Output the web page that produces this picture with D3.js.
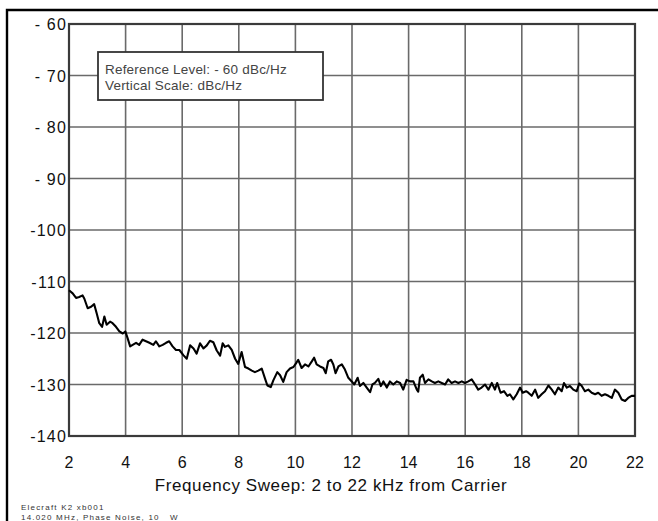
<!DOCTYPE html>
<html><head><meta charset="utf-8">
<script src="https://cdn.jsdelivr.net/npm/d3@7"></script>
<style>body{margin:0;background:#fff}svg{display:block}</style>
</head><body>
<svg id="c" width="658" height="521"></svg>
<script>
const freqs = [2.00,2.13,2.25,2.36,2.48,2.54,2.66,2.78,2.89,2.98,3.07,3.17,3.25,3.33,3.45,3.54,3.66,3.78,3.90,3.99,4.07,4.16,4.25,4.37,4.48,4.60,4.72,4.84,4.98,5.07,5.19,5.31,5.43,5.54,5.66,5.78,5.90,6.04,6.16,6.28,6.40,6.51,6.63,6.75,6.87,6.98,7.10,7.22,7.34,7.43,7.51,7.63,7.75,7.87,7.98,8.10,8.22,8.34,8.46,8.57,8.69,8.81,8.93,9.01,9.13,9.22,9.36,9.46,9.57,9.69,9.81,9.93,10.02,10.10,10.22,10.34,10.46,10.58,10.66,10.75,10.87,10.99,11.07,11.16,11.26,11.34,11.42,11.52,11.64,11.75,11.87,11.99,12.08,12.20,12.28,12.40,12.52,12.64,12.72,12.81,12.93,13.02,13.11,13.23,13.34,13.46,13.58,13.70,13.81,13.93,14.05,14.17,14.29,14.34,14.40,14.50,14.58,14.70,14.82,14.93,15.05,15.17,15.29,15.40,15.52,15.64,15.76,15.88,15.99,16.11,16.23,16.35,16.46,16.58,16.70,16.82,16.94,17.05,17.13,17.25,17.37,17.49,17.58,17.70,17.82,17.94,18.03,18.15,18.23,18.35,18.47,18.58,18.70,18.82,18.94,19.06,19.17,19.29,19.41,19.49,19.59,19.70,19.82,19.94,20.03,20.12,20.23,20.35,20.47,20.59,20.70,20.82,20.94,21.06,21.18,21.29,21.41,21.53,21.65,21.76,21.88,22.00];
const levels = [-111.7,-112.3,-113.2,-113.0,-112.7,-113.3,-115.2,-114.9,-114.4,-116.2,-118.1,-118.8,-116.8,-118.4,-117.8,-118.1,-118.8,-119.7,-120.1,-119.7,-121.0,-122.6,-122.3,-121.9,-122.3,-121.3,-121.6,-121.9,-122.3,-121.6,-122.6,-122.3,-121.9,-121.6,-122.6,-123.3,-123.3,-124.3,-125.0,-122.4,-123.0,-124.0,-122.0,-123.0,-122.4,-121.5,-121.8,-123.4,-124.4,-122.0,-122.7,-122.4,-123.3,-125.0,-126.0,-123.7,-126.6,-126.9,-127.3,-127.6,-127.3,-126.9,-128.9,-130.2,-130.5,-129.2,-127.6,-128.2,-129.5,-127.6,-126.9,-126.6,-125.9,-125.2,-126.8,-126.1,-126.5,-125.5,-124.8,-126.1,-126.5,-126.8,-127.8,-125.5,-125.2,-126.1,-127.8,-126.5,-126.1,-127.1,-128.7,-129.4,-130.0,-128.7,-130.3,-129.7,-130.6,-131.5,-130.0,-129.7,-128.9,-130.3,-129.4,-130.6,-129.4,-130.0,-129.4,-129.7,-131.0,-129.1,-129.4,-129.4,-131.0,-131.4,-128.7,-128.1,-129.7,-129.0,-129.4,-129.7,-129.4,-129.7,-130.0,-129.0,-129.7,-129.4,-129.7,-129.4,-129.7,-129.4,-129.0,-130.0,-131.0,-130.6,-130.0,-131.0,-129.7,-131.0,-129.7,-131.6,-131.3,-132.2,-131.9,-132.9,-131.9,-130.6,-131.6,-131.3,-131.6,-132.2,-131.0,-132.6,-131.9,-131.3,-130.2,-131.0,-131.9,-130.6,-131.3,-129.7,-130.6,-130.3,-131.0,-131.3,-129.8,-130.3,-131.3,-131.0,-131.6,-131.9,-131.6,-132.2,-131.9,-132.2,-132.6,-131.0,-131.6,-132.9,-133.2,-132.6,-132.2,-132.2];
const xTicks = [2,4,6,8,10,12,14,16,18,20,22];
const yTicks = [-60,-70,-80,-90,-100,-110,-120,-130,-140];
const yTickLabels = ["- 60","- 70","- 80","- 90","-100","-110","-120","-130","-140"];
const legendLines = ["Reference Level: - 60 dBc/Hz","Vertical Scale: dBc/Hz"];
const xTitle = "Frequency Sweep: 2 to 22 kHz from Carrier";
const footer = ["Elecraft K2 xb001","14.020 MHz, Phase Noise, 10   W"];

const svg = d3.select("#c");
const L=69,R=635,T=24,B=436;
const x = d3.scaleLinear().domain([2,22]).range([L,R]);
const y = d3.scaleLinear().domain([-140,-60]).range([B,T]);
const font = "'Liberation Sans', Arial, sans-serif";

// outer frame
svg.append("path").attr("d",`M7,${521+5} L7,10 L${658+5},10`).attr("fill","none").attr("stroke","#000").attr("stroke-width",2.4);

// grid
const g = svg.append("g");
g.selectAll("line.v").data(xTicks).join("line")
  .attr("x1",d=>x(d)).attr("x2",d=>x(d)).attr("y1",T).attr("y2",B)
  .attr("stroke","#6a6a6a").attr("stroke-width",1.6);
g.selectAll("line.h").data(yTicks).join("line")
  .attr("y1",d=>y(d)).attr("y2",d=>y(d)).attr("x1",L).attr("x2",R)
  .attr("stroke","#6a6a6a").attr("stroke-width",1.6);
svg.append("rect").attr("x",L).attr("y",T).attr("width",R-L).attr("height",B-T)
  .attr("fill","none").attr("stroke","#3a3a3a").attr("stroke-width",2.2);

// axes labels
svg.selectAll("text.yt").data(yTicks).join("text")
  .attr("x",L-2).attr("y",d=>y(d)+6).attr("text-anchor","end")
  .attr("font-family",font).attr("font-size",16).attr("letter-spacing",1.2).attr("fill","#111")
  .style("white-space","pre")
  .text((d,i)=>yTickLabels[i]);
svg.selectAll("text.xt").data(xTicks).join("text")
  .attr("x",d=>x(d)).attr("y",468).attr("text-anchor","middle")
  .attr("font-family",font).attr("font-size",16).attr("fill","#111")
  .text(d=>d);
svg.append("text").attr("x",331).attr("y",491).attr("text-anchor","middle")
  .attr("font-family",font).attr("font-size",17).attr("letter-spacing",0.6).attr("fill","#111").text(xTitle);

// line
const data = freqs.map((f,i)=>[f,levels[i]]);
svg.append("path").datum(data)
  .attr("d",d3.line().x(d=>x(d[0])).y(d=>y(d[1])))
  .attr("fill","none").attr("stroke","#000").attr("stroke-width",2.1).attr("stroke-linejoin","round");

// legend
svg.append("rect").attr("x",98).attr("y",52).attr("width",225).attr("height",48)
  .attr("fill","#fff").attr("stroke","#333").attr("stroke-width",1.8);
svg.selectAll("text.lg").data(legendLines).join("text")
  .attr("x",105).attr("y",(d,i)=>74+i*16)
  .attr("font-family",font).attr("font-size",13.5).attr("letter-spacing",0.2).attr("fill","#444").text(d=>d);

// footer
svg.selectAll("text.ft").data(footer).join("text")
  .attr("x",21).attr("y",(d,i)=>510+i*9.5)
  .attr("font-family",font).attr("font-size",8).attr("letter-spacing",1.2).attr("fill","#333")
  .style("white-space","pre").text(d=>d);
</script>
</body></html>
